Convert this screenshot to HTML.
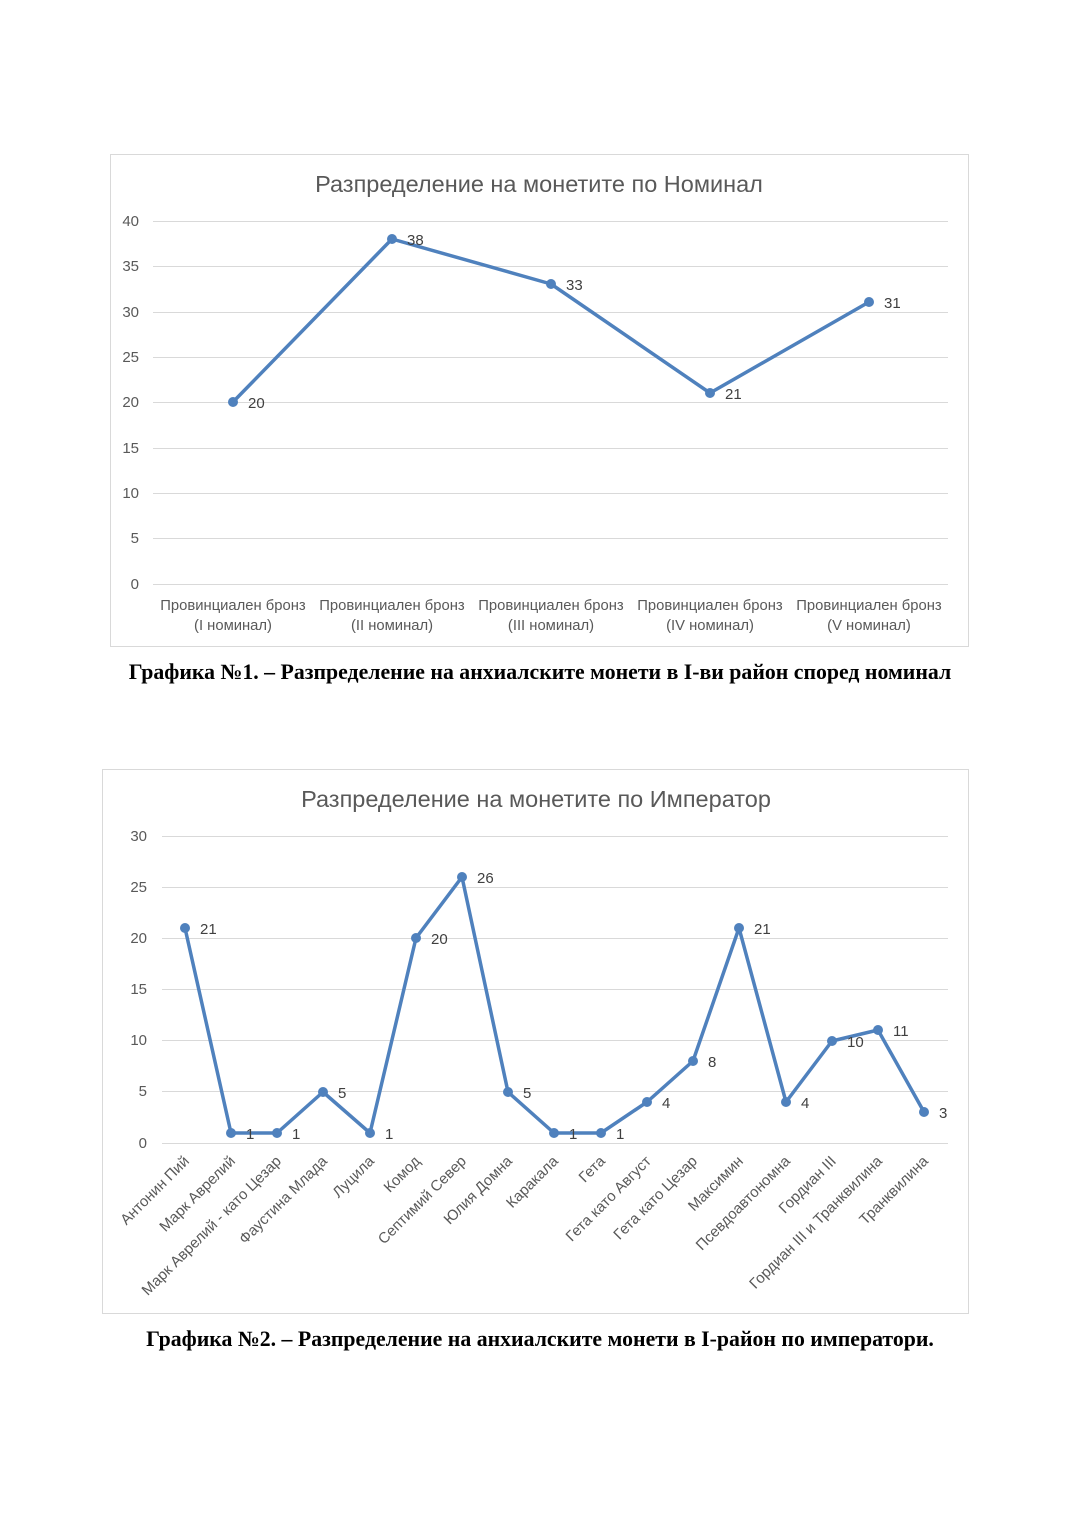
<!DOCTYPE html>
<html><head><meta charset="utf-8"><style>
body{margin:0;background:#fff}
svg text{font-family:"Liberation Sans","DejaVu Sans",sans-serif}
</style></head><body>
<svg width="1080" height="1527" viewBox="0 0 1080 1527" xmlns="http://www.w3.org/2000/svg">
<rect width="1080" height="1527" fill="#fff"/>
<!-- Chart 1 -->
<rect x="110.5" y="154.5" width="858" height="492" fill="#fff" stroke="#d9d9d9"/>
<text x="539" y="192" text-anchor="middle" font-size="23.5" fill="#595959">Разпределение на монетите по Номинал</text>
<g stroke="#d9d9d9" stroke-width="1">
<line x1="153" x2="948" y1="221.5" y2="221.5"/><line x1="153" x2="948" y1="266.5" y2="266.5"/>
<line x1="153" x2="948" y1="312.5" y2="312.5"/><line x1="153" x2="948" y1="357.5" y2="357.5"/>
<line x1="153" x2="948" y1="402.5" y2="402.5"/><line x1="153" x2="948" y1="448.5" y2="448.5"/>
<line x1="153" x2="948" y1="493.5" y2="493.5"/><line x1="153" x2="948" y1="538.5" y2="538.5"/>
<line x1="153" x2="948" y1="584.5" y2="584.5"/>
</g>
<g font-size="15" fill="#595959" text-anchor="end">
<text x="139" y="226">40</text><text x="139" y="271">35</text><text x="139" y="317">30</text>
<text x="139" y="362">25</text><text x="139" y="407">20</text><text x="139" y="453">15</text>
<text x="139" y="498">10</text><text x="139" y="543">5</text><text x="139" y="589">0</text>
</g>
<polyline points="233,402 392,239 551,284 710,393 869,302" fill="none" stroke="#4f81bd" stroke-width="3.5" stroke-linejoin="round"/>
<g fill="#4f81bd"><circle cx="233" cy="402" r="5"/><circle cx="392" cy="239" r="5"/><circle cx="551" cy="284" r="5"/><circle cx="710" cy="393" r="5"/><circle cx="869" cy="302" r="5"/></g>
<g font-size="15" fill="#404040">
<text x="248" y="408">20</text><text x="407" y="245">38</text><text x="566" y="290">33</text><text x="725" y="399">21</text><text x="884" y="308">31</text>
</g>
<g font-size="14.8" fill="#595959" text-anchor="middle">
<text x="233" y="610">Провинциален бронз</text><text x="233" y="630">(I номинал)</text>
<text x="392" y="610">Провинциален бронз</text><text x="392" y="630">(II номинал)</text>
<text x="551" y="610">Провинциален бронз</text><text x="551" y="630">(III номинал)</text>
<text x="710" y="610">Провинциален бронз</text><text x="710" y="630">(IV номинал)</text>
<text x="869" y="610">Провинциален бронз</text><text x="869" y="630">(V номинал)</text>
</g>
<text x="540" y="679" text-anchor="middle" font-size="21.8" font-weight="bold" style="font-family:'Liberation Serif',serif" fill="#000">Графика №1. – Разпределение на анхиалските монети в I-ви район според номинал</text>

<!-- Chart 2 -->
<rect x="102.5" y="769.5" width="866" height="544" fill="#fff" stroke="#d9d9d9"/>
<text x="536" y="807" text-anchor="middle" font-size="23.5" fill="#595959">Разпределение на монетите по Император</text>
<g stroke="#d9d9d9" stroke-width="1">
<line x1="162" x2="948" y1="836.5" y2="836.5"/><line x1="162" x2="948" y1="887.5" y2="887.5"/>
<line x1="162" x2="948" y1="938.5" y2="938.5"/><line x1="162" x2="948" y1="989.5" y2="989.5"/>
<line x1="162" x2="948" y1="1040.5" y2="1040.5"/><line x1="162" x2="948" y1="1091.5" y2="1091.5"/>
<line x1="162" x2="948" y1="1143.5" y2="1143.5"/>
</g>
<g font-size="15" fill="#595959" text-anchor="end">
<text x="147" y="841">30</text><text x="147" y="892">25</text><text x="147" y="943">20</text>
<text x="147" y="994">15</text><text x="147" y="1045">10</text><text x="147" y="1096">5</text><text x="147" y="1148">0</text>
</g>
<polyline points="185,928 231,1133 277,1133 323,1092 370,1133 416,938 462,877 508,1092 554,1133 601,1133 647,1102 693,1061 739,928 786,1102 832,1041 878,1030 924,1112" fill="none" stroke="#4f81bd" stroke-width="3.5" stroke-linejoin="round"/>
<g fill="#4f81bd">
<circle cx="185" cy="928" r="5"/><circle cx="231" cy="1133" r="5"/><circle cx="277" cy="1133" r="5"/><circle cx="323" cy="1092" r="5"/><circle cx="370" cy="1133" r="5"/><circle cx="416" cy="938" r="5"/><circle cx="462" cy="877" r="5"/><circle cx="508" cy="1092" r="5"/><circle cx="554" cy="1133" r="5"/><circle cx="601" cy="1133" r="5"/><circle cx="647" cy="1102" r="5"/><circle cx="693" cy="1061" r="5"/><circle cx="739" cy="928" r="5"/><circle cx="786" cy="1102" r="5"/><circle cx="832" cy="1041" r="5"/><circle cx="878" cy="1030" r="5"/><circle cx="924" cy="1112" r="5"/>
</g>
<g font-size="15" fill="#404040">
<text x="200" y="934">21</text><text x="246" y="1139">1</text><text x="292" y="1139">1</text><text x="338" y="1098">5</text><text x="385" y="1139">1</text><text x="431" y="944">20</text><text x="477" y="883">26</text><text x="523" y="1098">5</text><text x="569" y="1139">1</text><text x="616" y="1139">1</text><text x="662" y="1108">4</text><text x="708" y="1067">8</text><text x="754" y="934">21</text><text x="801" y="1108">4</text><text x="847" y="1047">10</text><text x="893" y="1036">11</text><text x="939" y="1118">3</text>
</g>
<g font-size="15" fill="#595959" text-anchor="end">
<text transform="translate(190,1162) rotate(-45)">Антонин Пий</text>
<text transform="translate(236,1162) rotate(-45)">Марк Аврелий</text>
<text transform="translate(282,1162) rotate(-45)">Марк Аврелий - като Цезар</text>
<text transform="translate(328,1162) rotate(-45)">Фаустина Млада</text>
<text transform="translate(375,1162) rotate(-45)">Луцила</text>
<text transform="translate(421,1162) rotate(-45)">Комод</text>
<text transform="translate(467,1162) rotate(-45)">Септимий Север</text>
<text transform="translate(513,1162) rotate(-45)">Юлия Домна</text>
<text transform="translate(559,1162) rotate(-45)">Каракала</text>
<text transform="translate(606,1162) rotate(-45)">Гета</text>
<text transform="translate(652,1162) rotate(-45)">Гета като Август</text>
<text transform="translate(698,1162) rotate(-45)">Гета като Цезар</text>
<text transform="translate(744,1162) rotate(-45)">Максимин</text>
<text transform="translate(791,1162) rotate(-45)">Псевдоавтономна</text>
<text transform="translate(837,1162) rotate(-45)">Гордиан III</text>
<text transform="translate(883,1162) rotate(-45)">Гордиан III и Транквилина</text>
<text transform="translate(929,1162) rotate(-45)">Транквилина</text>
</g>
<text x="540" y="1346" text-anchor="middle" font-size="21.8" font-weight="bold" style="font-family:'Liberation Serif',serif" fill="#000">Графика №2. – Разпределение на анхиалските монети в I-район по императори.</text>
</svg>
</body></html>
